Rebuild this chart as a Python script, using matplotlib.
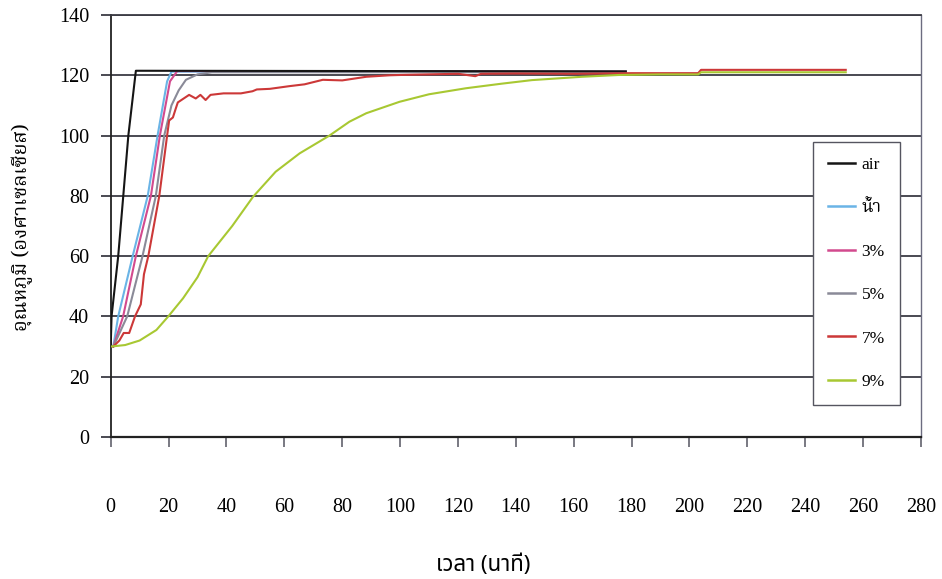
import matplotlib
matplotlib.use('Agg')
import matplotlib.pyplot as plt
from matplotlib.font_manager import FontProperties

plt.rcParams['font.family'] = ['Liberation Serif', 'Noto Serif Thai', 'DejaVu Sans']

# ===== Data =====
labels = ['air', 'น้ำ', '3%', '5%', '7%', '9%']
colors = ['#151515', '#6ab4e6', '#d24a8e', '#8a8a98', '#cc3838', '#a8c832']
zorders = [6, 3, 4, 5, 7, 8]

t_air = [0, 0.3, 2.6, 6.1, 8.7, 10, 178]
v_air = [30, 40, 60, 100, 121.5, 121.5, 121.3]

t_water = [0.9, 2.6, 7.6, 12.8, 16.2, 19.5, 21, 178]
v_water = [30, 40, 60, 80, 100, 118, 121.2, 121.2]

t_3 = [0.9, 4.3, 8.7, 13.9, 17, 20.5, 23, 178]
v_3 = [30, 40, 60, 80, 100, 118, 121.4, 121.2]

t_5 = [0.9, 5.7, 11, 15.6, 18.5, 21, 23.5, 26, 30, 35, 178]
v_5 = [30, 40, 60, 80, 100, 110, 115, 118.5, 120.3, 121, 121]

t_7 = [0.9, 3, 4.5, 6.4, 8.4, 10.4, 11.5, 13, 16.8, 19.5, 20.2, 21.5, 22.5, 23.2,
       27.1, 29.4, 31, 32.8, 34.5, 39, 45, 49, 50.5, 55, 61.8, 67, 73.3, 80, 88.3,
       96.4, 100, 110, 120, 126, 128, 140, 160, 180, 203, 204, 254]
v_7 = [30, 32, 34.5, 34.5, 40, 44, 54, 60, 80, 100, 105, 106, 109, 111,
       113.5, 112.3, 113.5, 111.8, 113.5, 114, 114, 114.7, 115.3, 115.5, 116.4, 117, 118.5, 118.3, 119.5,
       120, 120.1, 120.3, 120.5, 119.7, 120.5, 120.6, 120.5, 120.7, 120.7, 121.8, 121.8]

t_9 = [0, 5, 10, 15.8, 19.9, 25, 30, 33.7, 42, 49.2, 57, 65.3, 75.6, 82.5, 88.3,
       99.8, 110, 122.8, 135, 145.6, 162.8, 175.6, 190, 203, 204, 254]
v_9 = [30, 30.5, 32, 35.5, 40, 46, 53, 60, 70, 79.7, 88, 94.1, 100, 104.6, 107.4,
       111.2, 113.7, 115.7, 117.2, 118.4, 119.5, 120.1, 120.3, 120.3, 121, 121]

series_t = [t_air, t_water, t_3, t_5, t_7, t_9]
series_v = [v_air, v_water, v_3, v_5, v_7, v_9]

x_ticks = list(range(0, 281, 20))
y_ticks = list(range(0, 141, 20))

# ===== Figure =====
fig = plt.figure(figsize=(9.42, 5.79), dpi=100)
ax = fig.add_axes([0.1175, 0.2453, 0.8602, 0.7288])
ax.set_xlim(0, 280)
ax.set_ylim(0, 140)

grid_c = '#3c3c44'
for y in y_ticks[1:]:
    ax.axhline(y, color=grid_c, linewidth=1.3, zorder=1)

for t, v, c, lab, z in zip(series_t, series_v, colors, labels, zorders):
    ax.plot(t, v, color=c, linewidth=1.5, label=lab, zorder=z)

ax.set_xticks(x_ticks)
ax.set_yticks(y_ticks)
ax.tick_params(axis='y', direction='out', length=7.5, width=1.3, color=grid_c,
               pad=8, labelsize=14.5)
ax.tick_params(axis='x', direction='out', length=7, width=1.1, color='#555560',
               pad=37, labelsize=14.5)

ax.spines['left'].set_color('#222222')
ax.spines['left'].set_linewidth(1.3)
ax.spines['bottom'].set_color('#222222')
ax.spines['bottom'].set_linewidth(1.6)
ax.spines['top'].set_color(grid_c)
ax.spines['top'].set_linewidth(1.3)
ax.spines['right'].set_color('#6c6c80')
ax.spines['right'].set_linewidth(1.0)

leg = ax.legend(loc='upper left', bbox_to_anchor=(0.8667, 0.699),
                prop=FontProperties(family=['Liberation Serif', 'Noto Serif Thai'], size=12.5),
                frameon=True, fancybox=False, edgecolor='#555560', framealpha=1,
                labelspacing=1.57, handlelength=1.55, handletextpad=0.4,
                borderpad=0.85, borderaxespad=0)
leg.get_frame().set_linewidth(1.0)
leg.set_zorder(10)
for line in leg.get_lines():
    line.set_linewidth(1.8)

fig.text(0.024, 0.607, 'อุณหภูมิ (องศาเซลเซียส)', rotation=90, ha='center', va='center',
         fontsize=14.5, fontweight='bold', family=['Noto Serif Thai', 'Liberation Serif'])
fig.text(0.513, 1 - 565 / 579, 'เวลา (นาที)', ha='center', va='center',
         fontsize=16, family=['Noto Sans Thai', 'Liberation Serif'])

fig.savefig('out.png', dpi=100, facecolor='white')
